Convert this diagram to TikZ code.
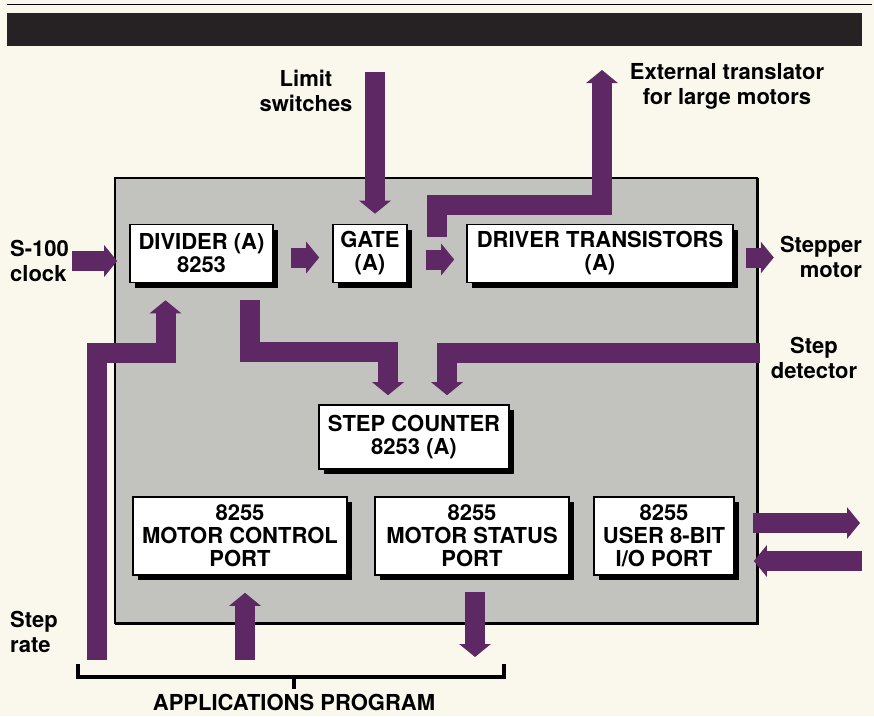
\documentclass[tikz,border=0pt]{standalone}
\usepackage{fontspec}
\setmainfont{TeX Gyre Heros}
\usepackage{tikz}
\usetikzlibrary{arrows.meta,calc,shadows,positioning}
\definecolor{papercream}{RGB}{250,248,237}
\definecolor{bannerdark}{RGB}{38,33,35}
\definecolor{boardgray}{RGB}{194,194,190}
\definecolor{plumarrow}{RGB}{94,40,100}
\newcommand\boxfont{\fontsize{22}{23}\selectfont\bfseries}
\newcommand\lblfont{\fontsize{22}{25}\selectfont\bfseries}

\begin{document}
\begin{tikzpicture}[x=1pt,y=-1pt,
    unitbox/.style={draw=black, line width=1.6pt, fill=white, align=center, inner sep=0pt,
        font=\boxfont, drop shadow={shadow xshift=5pt, shadow yshift=-5pt, fill=black, opacity=1}},
    fatarrow/.style={draw=plumarrow, line width=20pt, -{Triangle[length=13pt,width=31pt]}},
    sidelabel/.style={font=\lblfont, inner sep=0pt, align=center},
    bracketline/.style={line width=3.5pt}]
    \useasboundingbox (0,0) rectangle (874,716);
    \fill[papercream] (0,0) rectangle (874,716);
    % header rule and banner
    \draw[line width=1.5pt] (7,4.5) -- (872,4.5);
    \fill[bannerdark] (7,13) rectangle (862,46);
    % board
    \fill[boardgray] (115,178) rectangle (757,623);
    \draw[line width=2pt] (115,178) rectangle (757,623);
    \draw[line width=3pt] (115,623) -- (757,623) -- (757,178);

    % units
    \node[unitbox, minimum width=143pt, minimum height=58pt] (divider) at (201.5,253.5) {DIVIDER (A)\\8253};
    \node[unitbox, minimum width=74pt, minimum height=58pt] (gate) at (370,253.5) {GATE\\(A)};
    \node[unitbox, minimum width=266pt, minimum height=58pt] (driver) at (600,253.5) {DRIVER TRANSISTORS\\(A)};
    \node[unitbox, minimum width=190pt, minimum height=64pt] (counter) at (414,437) {STEP COUNTER\\8253 (A)};
    \node[unitbox, minimum width=214pt, minimum height=78pt] (ctrlport) at (240,536) {8255\\MOTOR CONTROL\\PORT};
    \node[unitbox, minimum width=194pt, minimum height=78pt] (statport) at (472,536) {8255\\MOTOR STATUS\\PORT};
    \node[unitbox, minimum width=140pt, minimum height=78pt] (userport) at (664,536) {8255\\USER 8-BIT\\I/O PORT};

    % outside labels
    \node[sidelabel, align=left, anchor=west] (clk) at (10,261) {S-100\\clock};
    \node[sidelabel] (lim) at (306,91) {Limit\\switches};
    \node[sidelabel] (ext) at (727,86) {External translator\\for large motors};
    \node[sidelabel, align=right, anchor=east] (stp) at (862,257) {Stepper\\motor};
    \node[sidelabel] (det) at (814,358) {Step\\detector};
    \node[sidelabel, align=left, anchor=west] (rate) at (10,632) {Step\\rate};
    \node[sidelabel] (apps) at (294,702) {APPLICATIONS PROGRAM};

    % free ends
    \coordinate (limtop) at (375,72);
    \coordinate (exttop) at (602,70);
    \coordinate (ratebot) at (97,660);
    \coordinate (detin) at (760,353);
    \coordinate (progA) at (245,660);
    \coordinate (progB) at (475,657);
    \coordinate (userout) at (860,523);
    \coordinate (userin) at (862,561);

    % data paths
    \draw[fatarrow] ($(clk.east)+(3,0)$) -- ($(clk.east -| divider.west)+(-12,0)$);
    \draw[fatarrow] ($(divider.east)+(17,4)$) -- ($(gate.west)+(-13,4)$);
    \draw[fatarrow] ($(gate.east)+(18,6)$) -- ($(driver.west)+(-12,6)$);
    \draw[fatarrow] ($(driver.east)+(12,4)$) -- ($(driver.east -| stp.west)+(-6,4)$);
    \draw[fatarrow] (limtop) -- ($(gate.north)+(5,-10)$);
    \draw[fatarrow] ($(gate.east)!.5!(driver.west)+(0,-17)$) |- ($(exttop)+(0,135)$) -- (exttop);
    \draw[fatarrow] (ratebot) |- ($(divider.south)+(-36,70)$) -- ($(divider.south)+(-36,17)$);
    \draw[fatarrow] ($(divider.south)+(48,17)$) |- ($(counter.north)+(-26,-52)$) -- ($(counter.north)+(-26,-9)$);
    \draw[fatarrow] (detin) -| ($(counter.north)+(33,-9)$);
    \draw[fatarrow] (progA) -- ($(ctrlport.south)+(5,17)$);
    \draw[fatarrow] ($(statport.south)+(3,16)$) -- (progB);
    \draw[fatarrow] ($(userport.east)+(18,-13)$) -- (userout);
    \draw[fatarrow] (userin) -- ($(userport.east)+(19,25)$);

    % bracket
    \draw[bracketline] (78,664) -- ++(0,13) -| (504,664);
    \draw[bracketline] (294,677) -- (294,689);
\end{tikzpicture}
\end{document}
